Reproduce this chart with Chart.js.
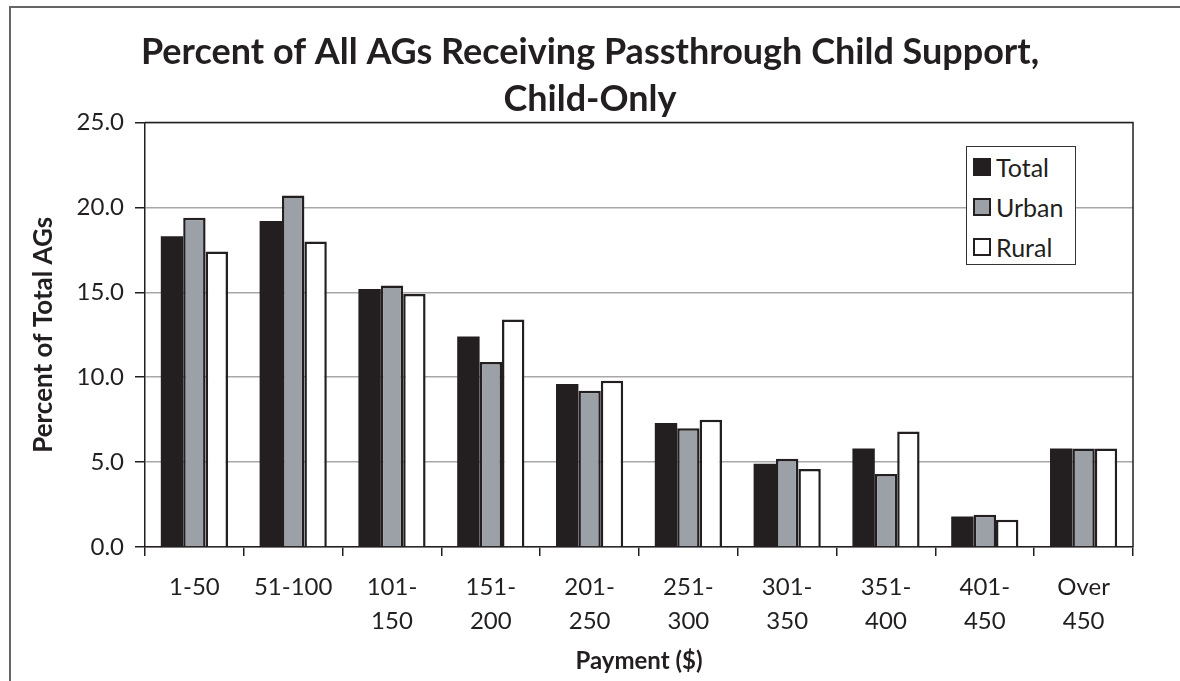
<!DOCTYPE html>
<html>
<head>
<meta charset="utf-8">
<script src="https://cdn.jsdelivr.net/npm/chart.js@4.4.1/dist/chart.umd.min.js"></script>
<style>
    body { margin: 0; background: #fff; }
    #wrap { position: relative; width: 1180px; height: 681px; overflow: hidden; }
    #frame { position: absolute; left: 9px; top: 6px; right: -10px; bottom: -10px;
             border-top: 2px solid #666; border-left: 2px solid #666; }
    #chart { position: absolute; left: 0; top: 0; }
    #legend { position: absolute; left: 966px; top: 146px; width: 108px; height: 117px;
              border: 1.5px solid #333; background: #fff; font-family: Lato, sans-serif;
              font-size: 25px; color: #231f20; }
    #legend div { height: 40px; line-height: 40px; display: flex; align-items: center; padding-left: 6px; }
    #legend span.box { display: inline-block; width: 14px; height: 14px; border: 2px solid #231f20; margin-right: 5px; }
</style>
</head>
<body>
<div id="wrap">
    <div id="frame"></div>
    <canvas id="chart" width="1180" height="681"></canvas>
    <div id="legend"></div>
</div>
<script>
// Datos del gráfico
var categorias = [['1-50'], ['51-100'], ['101-', '150'], ['151-', '200'], ['201-', '250'],
                  ['251-', '300'], ['301-', '350'], ['351-', '400'], ['401-', '450'], ['Over', '450']];
var total = [18.3, 19.2, 15.2, 12.4, 9.6, 7.3, 4.9, 5.8, 1.8, 5.8];
var urban = [19.4, 20.7, 15.4, 10.9, 9.2, 7.0, 5.2, 4.3, 1.9, 5.8];
var rural = [17.4, 18.0, 14.9, 13.4, 9.8, 7.5, 4.6, 6.8, 1.6, 5.8];
var yTicks = [0, 5, 10, 15, 20, 25];

var dark = '#231f20';
Chart.defaults.font.family = 'Lato, sans-serif';
Chart.defaults.color = dark;

// marco superior y derecho del área del gráfico
var marco = {
    id: 'marco',
    afterDraw: function (chart) {
        var a = chart.chartArea, ctx = chart.ctx;
        ctx.save();
        ctx.strokeStyle = dark;
        ctx.lineWidth = 1.5;
        ctx.beginPath();
        ctx.moveTo(a.left, a.top);
        ctx.lineTo(a.right, a.top);
        ctx.lineTo(a.right, a.bottom);
        ctx.stroke();
        ctx.restore();
    }
};

var ctx = document.getElementById('chart').getContext('2d');
var chart = new Chart(ctx, {
    type: 'bar',
    data: {
        labels: categorias,
        datasets: [
            { label: 'Total', data: total, backgroundColor: dark, borderColor: dark, borderWidth: 0 },
            { label: 'Urban', data: urban, backgroundColor: '#9ca1a8', borderColor: dark, borderWidth: 2.5, borderSkipped: 'bottom' },
            { label: 'Rural', data: rural, backgroundColor: '#ffffff', borderColor: dark, borderWidth: 2.5, borderSkipped: 'bottom' }
        ]
    },
    options: {
        responsive: false,
        animation: false,
        layout: { padding: 0 },
        datasets: { bar: { categoryPercentage: 0.68, barPercentage: 1.0 } },
        plugins: {
            legend: { display: false },
            tooltip: { enabled: false },
            title: {
                display: true,
                text: ['Percent of All AGs Receiving Passthrough Child Support,', 'Child-Only'],
                font: { size: 36, weight: 'bold', lineHeight: 1.3 },
                color: dark,
                padding: { top: 29, bottom: 0 }
            }
        },
        scales: {
            x: {
                afterFit: function (s) { s.height = 134; },
                grid: { drawOnChartArea: false, tickLength: 9, tickColor: dark, lineWidth: 1.5, offset: true },
                border: { color: dark, width: 1.5 },
                ticks: { font: { size: 24, lineHeight: 1.42 }, padding: 14, maxRotation: 0, autoSkip: false, color: dark },
                title: { display: true, text: 'Payment ($)', font: { size: 24, weight: 'bold', lineHeight: 1.2 }, padding: { top: 0, bottom: 5 }, color: dark }
            },
            y: {
                min: 0,
                max: 25,
                afterFit: function (s) { s.width = 145; },
                afterBuildTicks: function (s) { s.ticks = yTicks.map(function (v) { return { value: v }; }); },
                grid: { color: '#a8a8a8', lineWidth: 1.5, tickColor: dark, tickLength: 10 },
                border: { color: dark, width: 1.5 },
                ticks: { font: { size: 24 }, padding: 11, color: dark, callback: function (v) { return v.toFixed(1); } },
                title: { display: true, text: 'Percent of Total AGs', font: { size: 26, weight: 'bold', lineHeight: 1.2 }, padding: { top: 28, bottom: 0 }, color: dark }
            },
            // eje vacío a la derecha, sólo reserva el margen
            margen: {
                type: 'linear',
                position: 'right',
                afterFit: function (s) { s.width = 47; },
                grid: { display: false },
                border: { display: false },
                ticks: { display: false }
            }
        }
    },
    plugins: [marco]
});

// leyenda HTML a partir de los datasets
var leyenda = document.getElementById('legend');
chart.data.datasets.forEach(function (ds) {
    var fila = document.createElement('div');
    var caja = document.createElement('span');
    caja.className = 'box';
    caja.style.background = ds.backgroundColor;
    fila.appendChild(caja);
    fila.appendChild(document.createTextNode(ds.label));
    leyenda.appendChild(fila);
});
</script>
</body>
</html>
